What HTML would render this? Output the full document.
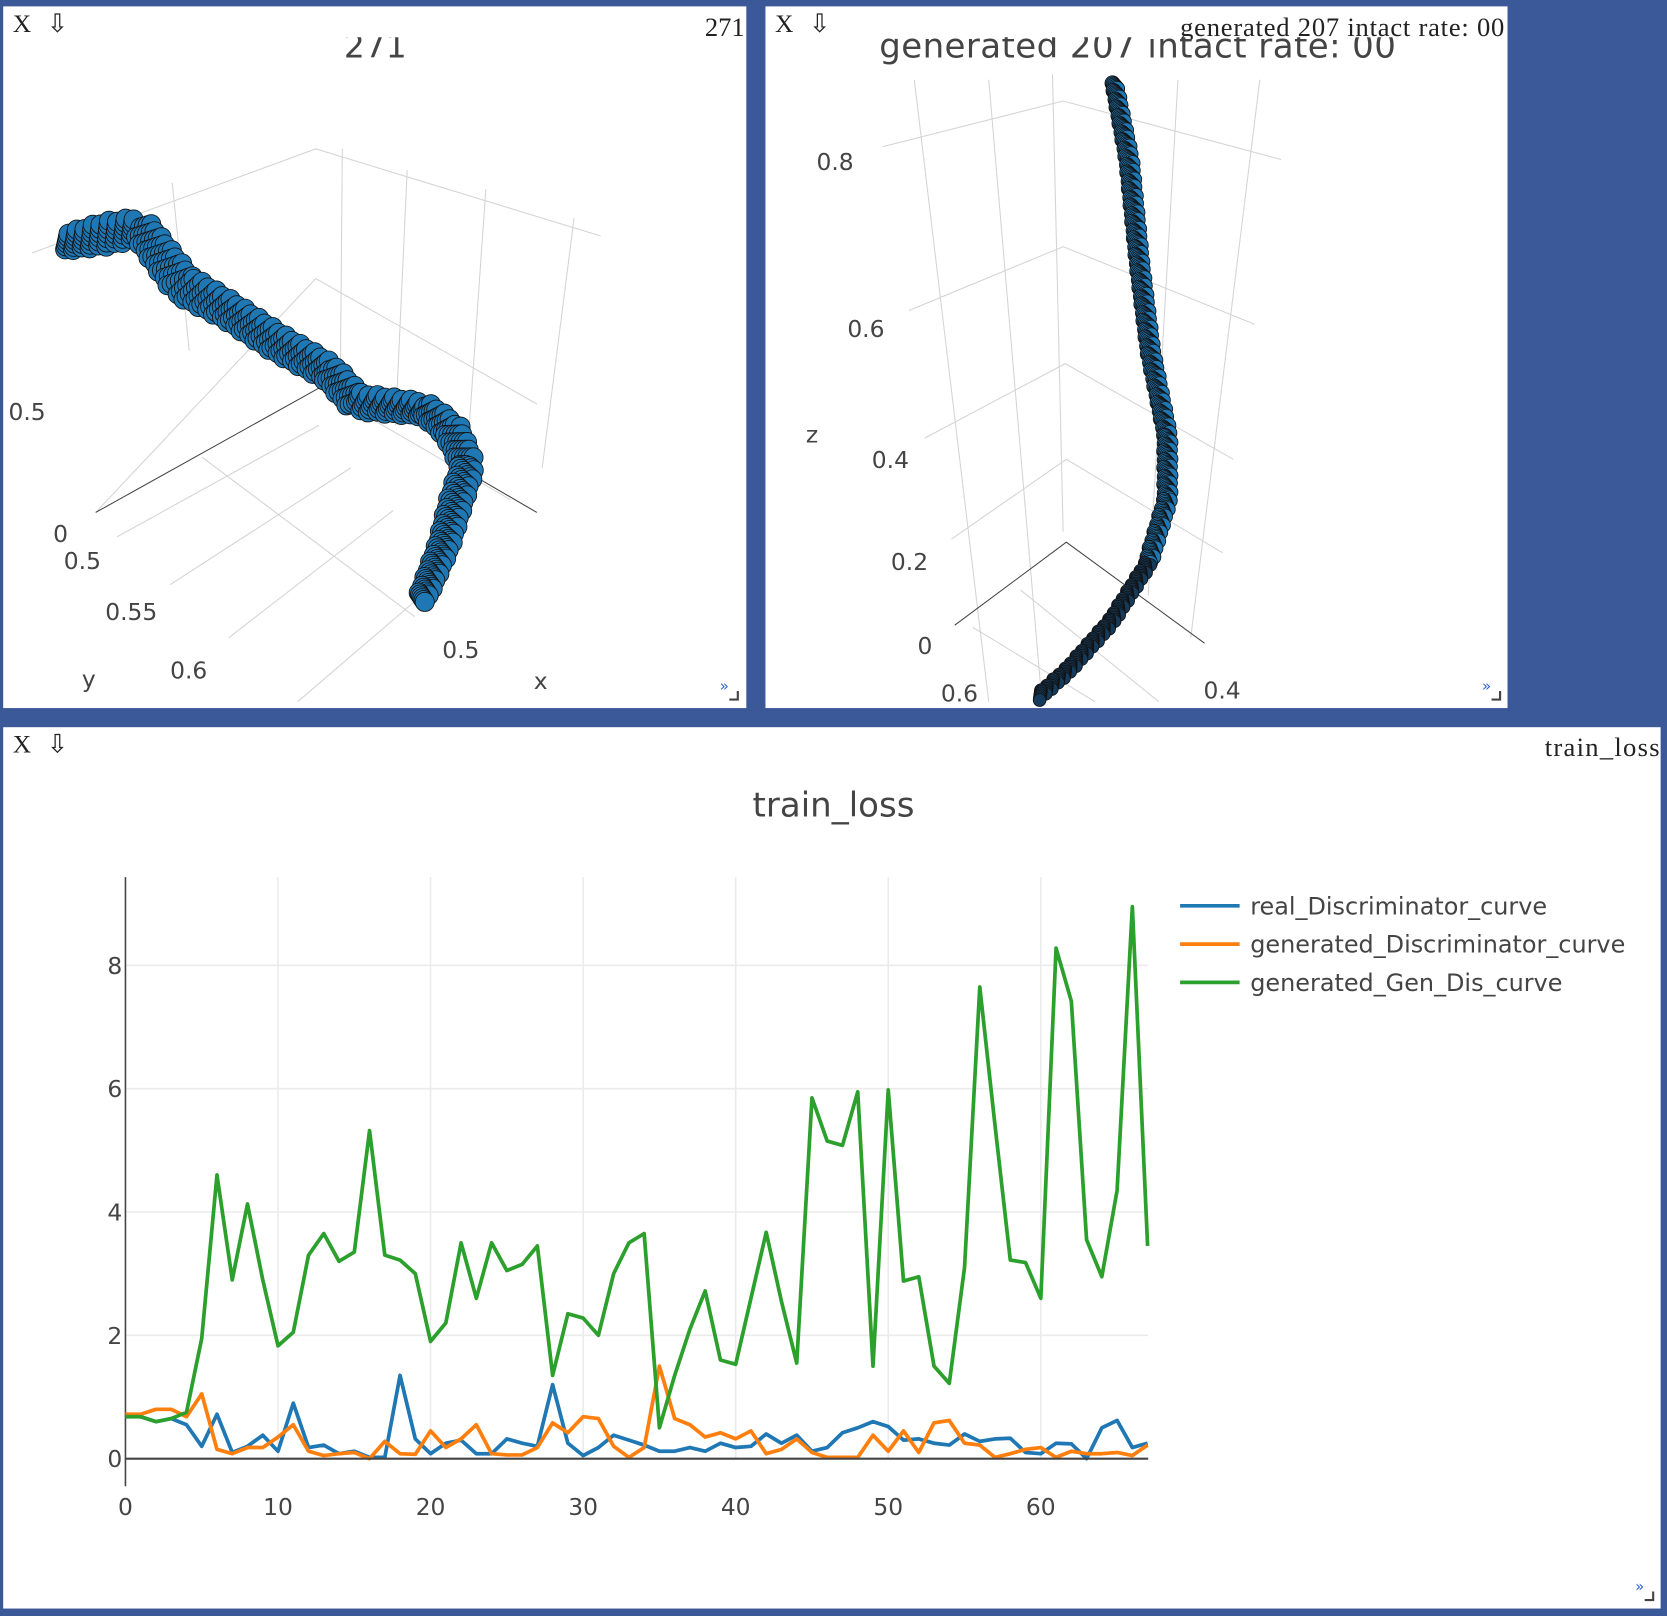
<!DOCTYPE html>
<html><head><meta charset="utf-8"><style>
html,body{margin:0;padding:0;background:#3b5998;}
svg{display:block;}
text{font-family:"DejaVu Sans","Liberation Sans",sans-serif;}
.ser{font-family:"Liberation Serif",serif;fill:#222;}
</style></head><body>
<svg id="root" width="1667" height="1616" viewBox="0 0 1568 1520">
<defs>
<clipPath id="c1"><rect x="3" y="35" width="699" height="631"/></clipPath>
<clipPath id="c2"><rect x="720" y="35" width="698" height="631"/></clipPath>
</defs>
<rect x="0" y="0" width="1568" height="1520" fill="#3b5998"/>
<!-- Panel 1 -->
<g>
<rect x="3" y="6" width="699" height="660" fill="#fff"/>
<text class="ser" x="12" y="30" font-size="24">X</text>
<text class="ser" x="44" y="30" font-size="24">⇩</text>
<text class="ser" x="663" y="34" font-size="25">271</text>
<g clip-path="url(#c1)">
<text x="353" y="54" font-size="31" fill="#444" text-anchor="middle">271</text>
<g stroke="#d4d4d4" stroke-width="1" fill="none">
<path d="M30 238 L297 140 L565 222"/><path d="M90 482 L297 262 L505 380"/>
<path d="M162 172 L178 330"/><path d="M322 140 L320 370"/><path d="M383 160 L372 400"/><path d="M457 178 L440 420"/><path d="M540 205 L510 440"/>
<path d="M110 505 L300 400"/><path d="M160 550 L330 440"/><path d="M215 600 L370 480"/><path d="M280 660 L420 540"/>
<path d="M190 430 L390 580"/><path d="M300 365 L480 470"/>
</g>
<path d="M90 482 L300 365" stroke="#444" stroke-width="1"/>
<path d="M450 450 L505 482" stroke="#444" stroke-width="1"/>
<g id="blob1"></g>
<g font-size="22" fill="#444">
<text x="8" y="395">0.5</text><text x="50" y="510">0</text><text x="60" y="535">0.5</text>
<text x="99" y="583">0.55</text><text x="160" y="638">0.6</text><text x="77" y="646">y</text>
<text x="416" y="619">0.5</text><text x="502" y="648">x</text>
</g>
</g>
<text x="677" y="650" font-size="14" fill="#3366cc">»</text>
<path d="M686 658 h8 v-8" stroke="#444" stroke-width="2" fill="none"/>
</g>
<!-- Panel 2 -->
<g>
<rect x="720" y="6" width="698" height="660" fill="#fff"/>
<text class="ser" x="729" y="30" font-size="24">X</text>
<text class="ser" x="761" y="30" font-size="24">⇩</text>
<text class="ser" x="1110" y="34" font-size="25" textLength="305">generated 207 intact rate: 00</text>
<g clip-path="url(#c2)">
<text x="827" y="54" font-size="32" fill="#444" textLength="486">generated 207   intact rate: 00</text>
<g stroke="#d4d4d4" stroke-width="1" fill="none">
<path d="M830 138 L1000 95 L1205 150"/><path d="M855 292 L1000 232 L1180 305"/><path d="M870 412 L1002 342 L1160 432"/><path d="M895 507 L1003 432 L1150 520"/>
<path d="M860 75 L930 660"/><path d="M930 75 L980 660"/><path d="M990 70 L1000 500"/><path d="M1108 75 L1080 560"/><path d="M1185 75 L1120 600"/>
<path d="M915 590 L1030 660"/><path d="M960 555 L1090 660"/>
</g>
<path d="M898 588 L1003 510 L1133 605" stroke="#444" stroke-width="1" fill="none"/>
<g id="blob2"></g>
<g font-size="22" fill="#444">
<text x="768" y="160">0.8</text><text x="797" y="317">0.6</text><text x="758" y="416">z</text><text x="820" y="440">0.4</text>
<text x="838" y="536">0.2</text><text x="863" y="615">0</text><text x="885" y="660">0.6</text><text x="1132" y="657">0.4</text>
</g>
</g>
<text x="1394" y="650" font-size="14" fill="#3366cc">»</text>
<path d="M1403 658 h8 v-8" stroke="#444" stroke-width="2" fill="none"/>
</g>
<!-- Panel 3 -->
<g>
<rect x="3" y="684" width="1559" height="829" fill="#fff"/>
<text class="ser" x="12" y="708" font-size="24">X</text>
<text class="ser" x="44" y="708" font-size="24">⇩</text>
<text class="ser" x="1453" y="711" font-size="25" textLength="108">train_loss</text>
<text x="784" y="768" font-size="32" fill="#444" text-anchor="middle">train_loss</text>
<g id="grid"></g>
<g id="ticks" font-size="22" fill="#444"></g>
<line x1="118" y1="825" x2="118" y2="1398" stroke="#444" stroke-width="1.5"/>
<g id="lines"></g>
<line x1="118" y1="1372" x2="1080" y2="1372" stroke="#444" stroke-width="2"/>
<g font-size="22.5" fill="#444">
<g><line x1="1110" y1="852" x2="1166" y2="852" stroke="#1f77b4" stroke-width="3.5"/><text x="1176" y="860">real_Discriminator_curve</text></g>
<g><line x1="1110" y1="888" x2="1166" y2="888" stroke="#ff7f0e" stroke-width="3.5"/><text x="1176" y="896">generated_Discriminator_curve</text></g>
<g><line x1="1110" y1="924" x2="1166" y2="924" stroke="#2ca02c" stroke-width="3.5"/><text x="1176" y="932">generated_Gen_Dis_curve</text></g>
</g>
<text x="1538" y="1497" font-size="14" fill="#3366cc">»</text>
<path d="M1547 1505 h8 v-8" stroke="#444" stroke-width="2" fill="none"/>
</g>
</svg>
<script>
const xTicks=[0,10,20,30,40,50,60];
const yTicks=[0,2,4,6,8];
const realDis=[0.7,0.68,0.6,0.65,0.55,0.2,0.72,0.1,0.2,0.38,0.12,0.9,0.18,0.22,0.08,0.12,0.02,0.02,1.35,0.32,0.08,0.25,0.3,0.08,0.08,0.32,0.25,0.2,1.2,0.25,0.05,0.18,0.38,0.3,0.22,0.12,0.12,0.18,0.12,0.25,0.18,0.2,0.4,0.25,0.38,0.12,0.18,0.42,0.5,0.6,0.52,0.3,0.32,0.25,0.22,0.4,0.28,0.32,0.33,0.1,0.08,0.25,0.24,0.0,0.5,0.62,0.18,0.25];
const genDis=[0.72,0.72,0.8,0.8,0.68,1.05,0.15,0.08,0.18,0.18,0.35,0.55,0.12,0.05,0.08,0.1,0.0,0.28,0.08,0.07,0.45,0.18,0.32,0.55,0.08,0.06,0.06,0.18,0.58,0.42,0.68,0.65,0.2,0.02,0.18,1.5,0.65,0.55,0.35,0.42,0.32,0.45,0.08,0.15,0.32,0.1,0.02,0.02,0.02,0.38,0.12,0.45,0.1,0.58,0.62,0.25,0.22,0.02,0.08,0.15,0.18,0.02,0.12,0.08,0.08,0.1,0.05,0.22];
const genGenDis=[0.68,0.68,0.6,0.65,0.75,1.95,4.6,2.9,4.13,2.9,1.83,2.05,3.3,3.65,3.2,3.35,5.32,3.3,3.22,3.0,1.9,2.2,3.5,2.6,3.5,3.05,3.15,3.45,1.35,2.35,2.28,2.0,3.0,3.5,3.65,0.5,1.35,2.1,2.72,1.6,1.53,2.6,3.67,2.55,1.55,5.85,5.15,5.08,5.95,1.5,5.98,2.88,2.95,1.5,1.22,3.1,7.65,5.4,3.22,3.18,2.6,8.28,7.42,3.55,2.95,4.35,8.95,3.45];
const NS='http://www.w3.org/2000/svg';
function X(v){return 118+v*14.35;}
function Y(v){return 1372-v*58;}
function mk(tag,attrs,parent){const e=document.createElementNS(NS,tag);for(const k in attrs)e.setAttribute(k,attrs[k]);parent.appendChild(e);return e;}
const grid=document.getElementById('grid'),ticks=document.getElementById('ticks'),lines=document.getElementById('lines');
xTicks.forEach(t=>{
 if(t>0){const l=mk('line',{x1:X(t),x2:X(t),y1:825,y2:1372,stroke:'#ebebeb','stroke-width':1.5},grid);
 
 }
 const tx=mk('text',{x:X(t),y:1425,'text-anchor':'middle'},ticks);tx.textContent=t;
 
 
});
yTicks.forEach(t=>{
 if(t>0){const l=mk('line',{x1:118,x2:1080,y1:Y(t),y2:Y(t),stroke:'#ebebeb','stroke-width':1.5},grid);
 
 }
 const tx=mk('text',{x:115,y:Y(t)+8,'text-anchor':'end'},ticks);tx.textContent=t;
 
 
});
[[realDis,'#1f77b4','line-real-discriminator'],[genDis,'#ff7f0e','line-generated-discriminator'],[genGenDis,'#2ca02c','line-generated-gen-dis']].forEach(([d,c,n])=>{
 const p=mk('polyline',{points:d.map((v,i)=>X(i)+','+Y(v)).join(' '),fill:'none',stroke:c,'stroke-width':3.5,'stroke-linejoin':'round'},lines);
 
 
});
function blob(id,pts,rads,cr,dark){
 const g=document.getElementById(id);let idx=0;
 for(let s=0;s<pts.length-1;s++){
  const [x0,y0]=pts[s],[x1,y1]=pts[s+1];const r0=rads[s],r1=rads[s+1];
  const len=Math.hypot(x1-x0,y1-y0);const n=Math.max(2,Math.round(len/1.2));
  for(let k=0;k<n;k++){const t=k/n;const r=r0+(r1-r0)*t;
   idx++;const off=((idx*37)%13-6)/6*r;
   const nx=-(y1-y0)/len,ny=(x1-x0)/len;
   const dk=dark&&s>=pts.length-4;
   mk('circle',{cx:x0+(x1-x0)*t+nx*off,cy:y0+(y1-y0)*t+ny*off,r:dk?cr-1:cr,fill:dk?'#163a5a':'#1f77b4',stroke:'#111','stroke-width':0.8},g);}
 }
}
blob('blob1',[[60,228],[100,220],[132,214],[172,268],[215,292],[260,322],[310,350],[335,378],[400,385],[425,405],[440,438],[428,475],[418,512],[396,566]],[8,12,10,12,10,10,9,9,7,9,8,8,7,5],9,false);
blob('blob2',[[1048,78],[1062,150],[1072,250],[1082,330],[1098,410],[1098,470],[1080,530],[1045,585],[1005,630],[975,657]],[2,3,3,3,3,3,3,3,3,3],7,true);
</script>
</body></html>
